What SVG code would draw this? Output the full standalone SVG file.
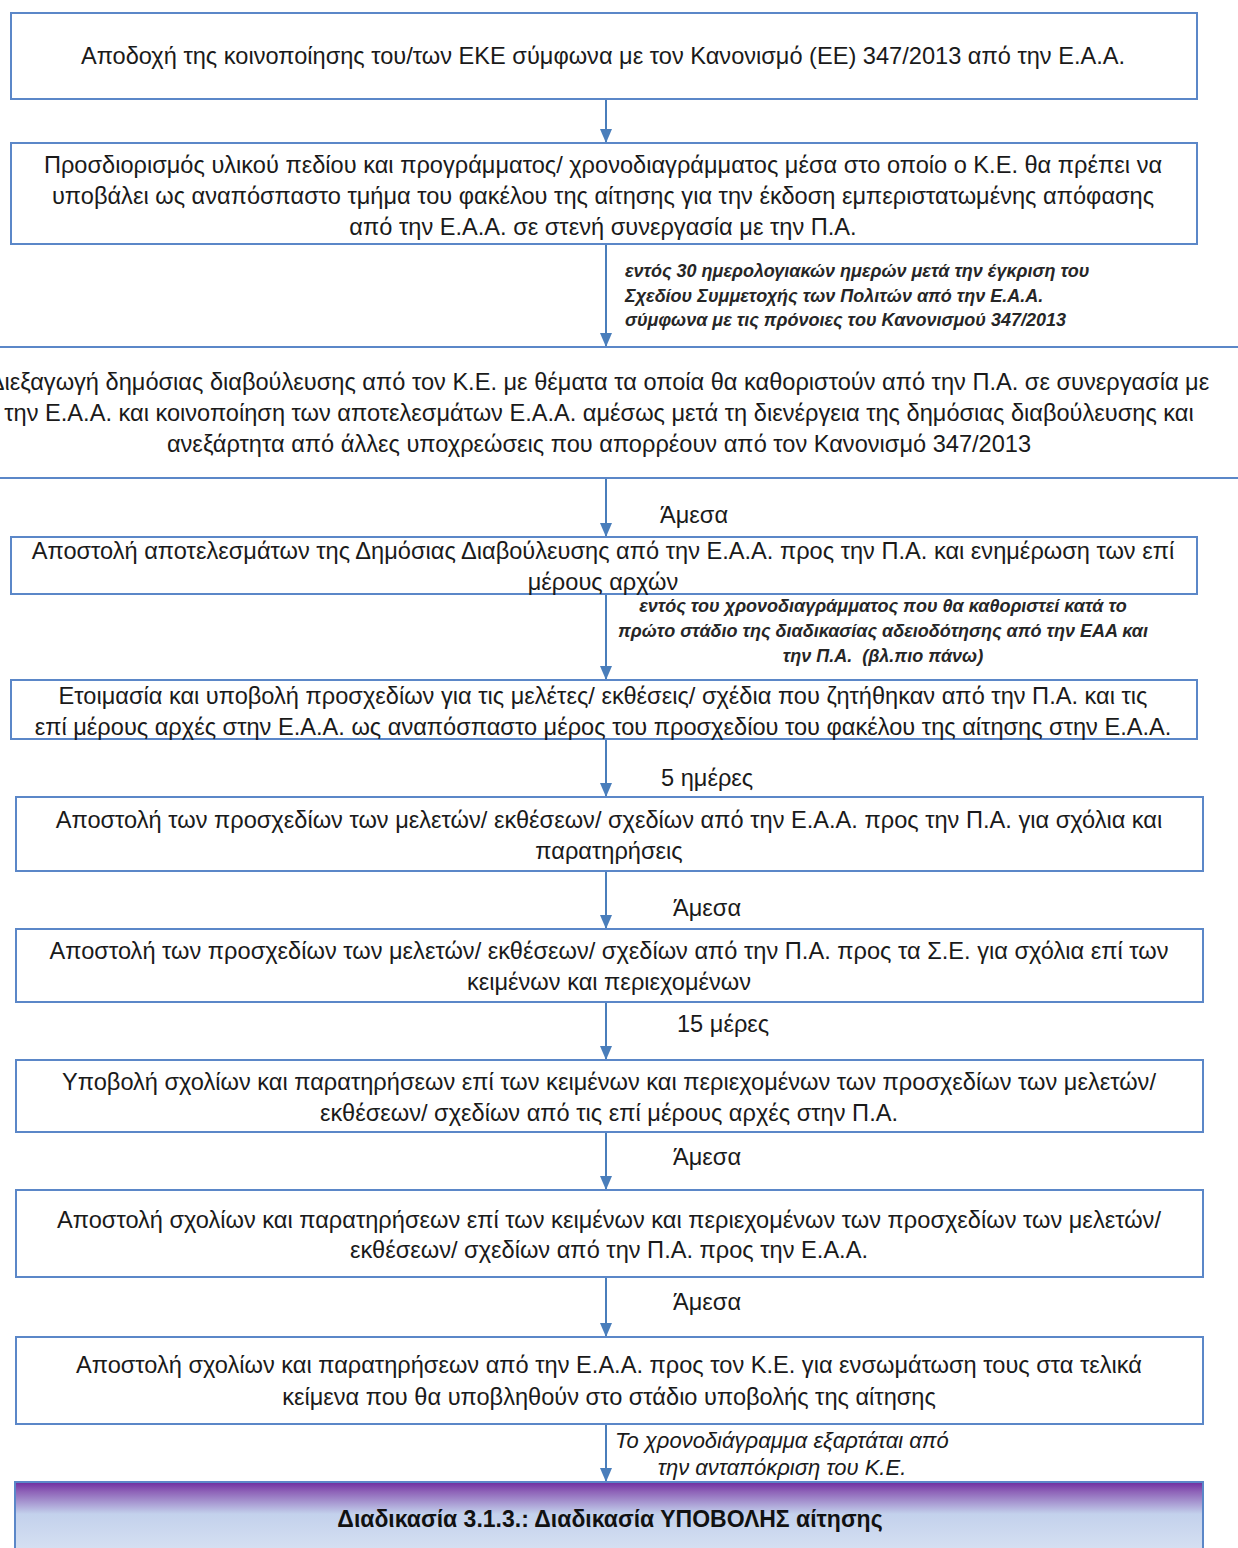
<svg xmlns="http://www.w3.org/2000/svg" width="1238" height="1548" viewBox="0 0 1238 1548">
<style>
.box{fill:#ffffff;stroke:#5B87C8;stroke-width:2}
.t{font-family:"Liberation Sans",Arial,sans-serif;font-size:23.6px;fill:#1a1a1a;text-anchor:middle}
.lbl{font-family:"Liberation Sans",Arial,sans-serif;font-size:23.6px;fill:#1a1a1a}
.it{font-family:"Liberation Sans",Arial,sans-serif;font-size:18px;font-style:italic;font-weight:bold;fill:#262626}
.it2{font-family:"Liberation Sans",Arial,sans-serif;font-size:22px;font-style:italic;fill:#1a1a1a}
.title{font-family:"Liberation Sans",Arial,sans-serif;font-size:23px;font-weight:bold;fill:#111111;text-anchor:middle}
.c{stroke:#4A7EBB;stroke-width:2;fill:none;marker-end:url(#ah)}
</style>
<defs>
<marker id="ah" viewBox="0 0 14 12" refX="14" refY="6" markerWidth="14" markerHeight="12" markerUnits="userSpaceOnUse" orient="auto">
<path d="M0,0 L14,6 L0,12 Z" fill="#4A7EBB"/>
</marker>
<linearGradient id="g" x1="0" y1="0" x2="0" y2="1">
<stop offset="0" stop-color="#6E2C9F"/>
<stop offset="0.12" stop-color="#8E63B8"/>
<stop offset="0.4" stop-color="#C3D1EC"/>
<stop offset="1" stop-color="#DBE5F4"/>
</linearGradient>
</defs>
<rect width="1238" height="1548" fill="#ffffff"/>

<g id="connectors">
<line class="c" x1="606" y1="99" x2="606" y2="143"/>
<line class="c" x1="606" y1="244" x2="606" y2="347"/>
<line class="c" x1="606" y1="478" x2="606" y2="537"/>
<line class="c" x1="606" y1="594" x2="606" y2="680"/>
<line class="c" x1="606" y1="739" x2="606" y2="797"/>
<line class="c" x1="606" y1="871" x2="606" y2="929"/>
<line class="c" x1="606" y1="1002" x2="606" y2="1060"/>
<line class="c" x1="606" y1="1132" x2="606" y2="1190"/>
<line class="c" x1="606" y1="1277" x2="606" y2="1337"/>
<line class="c" x1="606" y1="1424" x2="606" y2="1482"/>
<text class="it" x="625" y="277">εντός 30 ημερολογιακών ημερών μετά την έγκριση του</text>
<text class="it" x="625" y="302">Σχεδίου Συμμετοχής των Πολιτών από την Ε.Α.Α.</text>
<text class="it" x="625" y="326">σύμφωνα με τις πρόνοιες του Κανονισμού 347/2013</text>
<text class="lbl" x="660" y="523">Άμεσα</text>
<text class="it" x="883" y="612" text-anchor="middle">εντός του χρονοδιαγράμματος που θα καθοριστεί κατά το</text>
<text class="it" x="883" y="637" text-anchor="middle">πρώτο στάδιο της διαδικασίας αδειοδότησης από την ΕΑΑ και</text>
<text class="it" x="883" y="662" text-anchor="middle" xml:space="preserve">την Π.Α.  (βλ.πιο πάνω)</text>
<text class="lbl" x="661" y="786">5 ημέρες</text>
<text class="lbl" x="673" y="916">Άμεσα</text>
<text class="lbl" x="677" y="1032">15 μέρες</text>
<text class="lbl" x="673" y="1165">Άμεσα</text>
<text class="lbl" x="673" y="1310">Άμεσα</text>
<text class="it2" x="615" y="1448">Το χρονοδιάγραμμα εξαρτάται από</text>
<text class="it2" x="782" y="1475" text-anchor="middle">την ανταπόκριση του Κ.Ε.</text>
</g>

<g id="n1">
<rect class="box" x="11" y="13" width="1186" height="86"/>
<text class="t" x="603" y="64">Αποδοχή της κοινοποίησης του/των ΕΚΕ σύμφωνα με τον Κανονισμό (ΕΕ) 347/2013 από την Ε.Α.Α.</text>
</g>
<g id="n2">
<rect class="box" x="11" y="143" width="1186" height="101"/>
<text class="t" x="603" y="173">Προσδιορισμός υλικού πεδίου και προγράμματος/ χρονοδιαγράμματος μέσα στο οποίο ο Κ.Ε. θα πρέπει να</text>
<text class="t" x="603" y="204">υποβάλει ως αναπόσπαστο τμήμα του φακέλου της αίτησης για την έκδοση εμπεριστατωμένης απόφασης</text>
<text class="t" x="603" y="235">από την Ε.Α.Α. σε στενή συνεργασία με την Π.Α.</text>
</g>
<g id="n3">
<rect class="box" x="-10" y="347" width="1260" height="131"/>
<text class="t" x="599" y="390">Διεξαγωγή δημόσιας διαβούλευσης από τον Κ.Ε. με θέματα τα οποία θα καθοριστούν από την Π.Α. σε συνεργασία με</text>
<text class="t" x="599" y="421">την Ε.Α.Α. και κοινοποίηση των αποτελεσμάτων Ε.Α.Α. αμέσως μετά τη διενέργεια της δημόσιας διαβούλευσης και</text>
<text class="t" x="599" y="452">ανεξάρτητα από άλλες υποχρεώσεις που απορρέουν από τον Κανονισμό 347/2013</text>
</g>
<g id="n4">
<rect class="box" x="11" y="537" width="1186" height="57"/>
<text class="t" x="603" y="559">Αποστολή αποτελεσμάτων της Δημόσιας Διαβούλευσης από την Ε.Α.Α. προς την Π.Α. και ενημέρωση των επί</text>
<text class="t" x="603" y="590">μέρους αρχών</text>
</g>
<g id="n5">
<rect class="box" x="11" y="680" width="1186" height="59"/>
<text class="t" x="603" y="704">Ετοιμασία και υποβολή προσχεδίων για τις μελέτες/ εκθέσεις/ σχέδια που ζητήθηκαν από την Π.Α. και τις</text>
<text class="t" x="603" y="735">επί μέρους αρχές στην Ε.Α.Α. ως αναπόσπαστο μέρος του προσχεδίου του φακέλου της αίτησης στην Ε.Α.Α.</text>
</g>
<g id="n6">
<rect class="box" x="16" y="797" width="1187" height="74"/>
<text class="t" x="609" y="828">Αποστολή των προσχεδίων των μελετών/ εκθέσεων/ σχεδίων από την Ε.Α.Α. προς την Π.Α. για σχόλια και</text>
<text class="t" x="609" y="859">παρατηρήσεις</text>
</g>
<g id="n7">
<rect class="box" x="16" y="929" width="1187" height="73"/>
<text class="t" x="609" y="959">Αποστολή των προσχεδίων των μελετών/ εκθέσεων/ σχεδίων από την Π.Α. προς τα Σ.Ε. για σχόλια επί των</text>
<text class="t" x="609" y="990">κειμένων και περιεχομένων</text>
</g>
<g id="n8">
<rect class="box" x="16" y="1060" width="1187" height="72"/>
<text class="t" x="609" y="1090">Υποβολή σχολίων και παρατηρήσεων επί των κειμένων και περιεχομένων των προσχεδίων των μελετών/</text>
<text class="t" x="609" y="1121">εκθέσεων/ σχεδίων από τις επί μέρους αρχές στην Π.Α.</text>
</g>
<g id="n9">
<rect class="box" x="16" y="1190" width="1187" height="87"/>
<text class="t" x="609" y="1228">Αποστολή σχολίων και παρατηρήσεων επί των κειμένων και περιεχομένων των προσχεδίων των μελετών/</text>
<text class="t" x="609" y="1258">εκθέσεων/ σχεδίων από την Π.Α. προς την Ε.Α.Α.</text>
</g>
<g id="n10">
<rect class="box" x="16" y="1337" width="1187" height="87"/>
<text class="t" x="609" y="1373">Αποστολή σχολίων και παρατηρήσεων από την Ε.Α.Α. προς τον Κ.Ε. για ενσωμάτωση τους στα τελικά</text>
<text class="t" x="609" y="1405">κείμενα που θα υποβληθούν στο στάδιο υποβολής της αίτησης</text>
</g>
<g id="n11">
<rect x="15" y="1482" width="1188" height="80" fill="url(#g)" stroke="#5B87C8" stroke-width="2"/>
<text class="title" x="610" y="1527">Διαδικασία 3.1.3.: Διαδικασία ΥΠΟΒΟΛΗΣ αίτησης</text>
</g>
</svg>
